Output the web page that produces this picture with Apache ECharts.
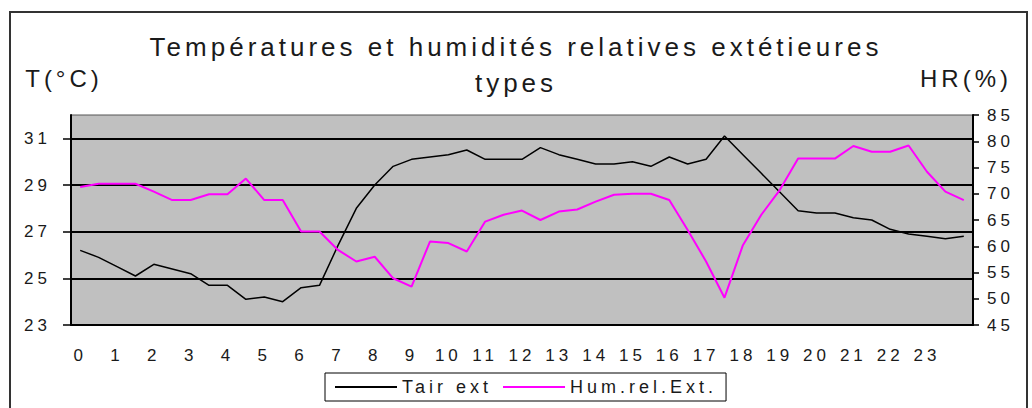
<!DOCTYPE html>
<html>
<head>
<meta charset="utf-8">
<script src="https://cdn.jsdelivr.net/npm/echarts@6.0.0/dist/echarts.min.js"></script>
<style>
  html, body { margin: 0; padding: 0; background: #fff; }
  #chart { width: 1032px; height: 408px; }
  /* Excel-like spread lettering */
  #chart text { letter-spacing: 4px; }
</style>
</head>
<body>
<div id="chart"></div>
<script>
// half-hour steps, only the whole hours get a label
var hours = ['0', '0:30', '1', '1:30', '2', '2:30', '3', '3:30', '4', '4:30', '5', '5:30',
  '6', '6:30', '7', '7:30', '8', '8:30', '9', '9:30', '10', '10:30', '11', '11:30',
  '12', '12:30', '13', '13:30', '14', '14:30', '15', '15:30', '16', '16:30', '17', '17:30',
  '18', '18:30', '19', '19:30', '20', '20:30', '21', '21:30', '22', '22:30', '23', '23:30', '24'];

// T air ext (°C)
var tairExt = [26.2, 25.9, 25.5, 25.1, 25.6, 25.4, 25.2, 24.7, 24.7, 24.1, 24.2, 24.0,
  24.6, 24.7, 26.4, 28.0, 29.0, 29.8, 30.1, 30.2, 30.3, 30.5, 30.1, 30.1,
  30.1, 30.6, 30.3, 30.1, 29.9, 29.9, 30.0, 29.8, 30.2, 29.9, 30.1, 31.1,
  30.3, 29.5, 28.7, 27.9, 27.8, 27.8, 27.6, 27.5, 27.1, 26.9, 26.8, 26.7, 26.8];

// humidité relative ext (%)
var humRelExt = [71.3, 71.9, 71.9, 71.9, 70.4, 68.8, 68.8, 69.9, 69.9, 72.9, 68.8, 68.8,
  62.8, 62.8, 59.3, 57.1, 58.0, 53.9, 52.3, 60.9, 60.6, 59.0, 64.7, 66.0,
  66.8, 65.0, 66.6, 67.0, 68.5, 69.8, 70.0, 70.0, 68.8, 63.1, 57.1, 50.2,
  60.2, 66.0, 70.7, 76.7, 76.7, 76.7, 79.1, 78.0, 78.0, 79.2, 74.2, 70.4, 68.8];

var tempTicks = [23, 25, 27, 29, 31];

var font = 'Arial, "Liberation Sans", sans-serif';
var ink = '#1a1a1a';

var chart = echarts.init(document.getElementById('chart'), null, { renderer: 'svg' });
chart.setOption({
  animation: false,
  backgroundColor: '#fff',
  textStyle: { fontFamily: font },
  title: {
    text: 'Températures et humidités relatives extétieures\ntypes',
    left: 'center',
    top: 24,
    padding: [5, 5, 5, 17],
    textStyle: { fontSize: 26, fontWeight: 'normal', color: ink, lineHeight: 36, fontFamily: font }
  },
  graphic: [{
    type: 'rect',
    shape: { x: 10, y: 12, width: 1017, height: 420 },
    style: { fill: 'none', stroke: '#333', lineWidth: 2 },
    silent: true
  }],
  legend: {
    left: 325,
    top: 373,
    padding: [5, 57, 5, 10],
    icon: 'rect',
    itemWidth: 62,
    itemHeight: 2,
    itemGap: 43,
    borderColor: '#000',
    borderWidth: 1,
    textStyle: { fontSize: 18, color: ink, fontFamily: font, lineHeight: 18 },
    data: ['Tair ext', 'Hum.rel.Ext.']
  },
  grid: {
    left: 71, right: 59, top: 115, bottom: 83,
    show: true,
    backgroundColor: '#c0c0c0',
    borderColor: '#555',
    borderWidth: 1
  },
  xAxis: {
    type: 'category',
    data: hours,
    boundaryGap: true,
    axisLine: { lineStyle: { color: '#000', width: 2 } },
    axisTick: { interval: 0, length: 5, lineStyle: { color: '#000', width: 1.5 } },
    axisLabel: {
      interval: function (i) { return i % 2 === 0 && i < 48; },
      margin: 22, fontSize: 17, color: ink, fontFamily: font
    },
    splitLine: { show: false }
  },
  yAxis: [{
    type: 'value',
    min: 23,
    max: 32,
    name: 'T(°C)',
    nameLocation: 'end',
    nameGap: 25,
    nameTextStyle: { fontSize: 24, color: ink, align: 'center', padding: [0, 14, 0, 0], fontFamily: font },
    axisLine: { show: true, lineStyle: { color: '#000', width: 2 } },
    axisTick: { show: true, length: 8, customValues: tempTicks, lineStyle: { color: '#000', width: 1.5 } },
    axisLabel: { customValues: tempTicks, margin: 20, fontSize: 17, color: ink, fontFamily: font },
    splitLine: { show: true, lineStyle: { color: '#000', width: 2 } }
  }, {
    type: 'value',
    min: 45,
    max: 85,
    interval: 5,
    position: 'right',
    name: 'HR(%)',
    nameLocation: 'end',
    nameGap: 25,
    nameTextStyle: { fontSize: 24, color: ink, align: 'center', padding: [0, 14, 0, 0], fontFamily: font },
    axisLine: { show: true, lineStyle: { color: '#000', width: 2 } },
    axisTick: { show: true, length: 6, lineStyle: { color: '#000', width: 1.5 } },
    axisLabel: { margin: 14, fontSize: 17, color: ink, fontFamily: font },
    splitLine: { show: false }
  }],
  series: [{
    name: 'Tair ext',
    type: 'line',
    data: tairExt,
    yAxisIndex: 0,
    symbol: 'none',
    color: '#000',
    lineStyle: { color: '#000', width: 1.5 }
  }, {
    name: 'Hum.rel.Ext.',
    type: 'line',
    data: humRelExt,
    yAxisIndex: 1,
    symbol: 'none',
    color: '#ff00ff',
    lineStyle: { color: '#ff00ff', width: 2 }
  }]
});
</script>
</body>
</html>
